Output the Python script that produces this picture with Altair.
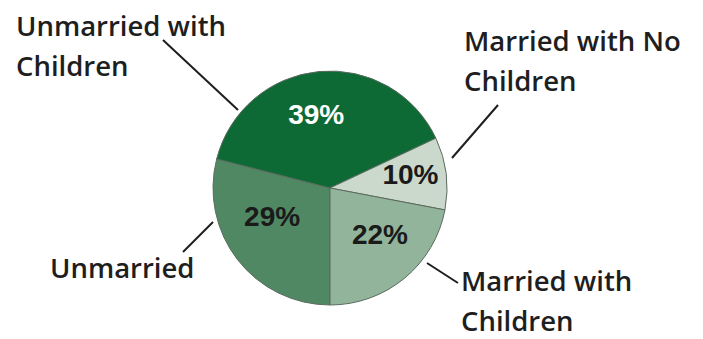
import math
import altair as alt
import pandas as pd

# Slice data (clockwise from 6 o'clock)
categories = ["Unmarried", "Unmarried with Children", "Married with No Children", "Married with Children"]
shares = [29, 39, 10, 22]
slice_colors = ["#4f8863", "#0e6a35", "#cbd8cc", "#92b49a"]
pct_text_colors = ["#1a1a1a", "#ffffff", "#1a1a1a", "#1a1a1a"]

# Outer annotation labels (text, anchor in chart pixels)
label_texts = ["Unmarried with\nChildren", "Married with No\nChildren", "Unmarried", "Married with\nChildren"]
label_x = [8, 456, 42, 453]
label_y = [28, 43, 270, 283]

# Leader lines (chart pixels)
lead_x1 = [155, 490, 175, 419]
lead_y1 = [32, 97, 244, 255]
lead_x2 = [230, 444, 205, 450]
lead_y2 = [102, 150, 214, 275]

CX, CY, R = 322, 180, 117
# small per-label nudges of the percentage labels (dx, dy)
PCT_NUDGE = {
    "Unmarried": (-1, -14),
    "Unmarried with Children": (-7, 0),
    "Married with No Children": (9, -3),
    "Married with Children": (4, -7),
}

pie_df = pd.DataFrame({
    "category": categories,
    "share": shares,
    "idx": list(range(len(categories))),
    "fill": slice_colors,
    "tcolor": pct_text_colors,
    "pct": [f"{s}%" for s in shares],
})

theta = alt.Theta("share:Q", stack=True, scale=alt.Scale(range=[math.pi, 3 * math.pi]))
order = alt.Order("idx:Q")

arcs = alt.Chart(pie_df).mark_arc(stroke="#5b6b5f", strokeWidth=1).encode(
    theta=theta,
    order=order,
    color=alt.Color("fill:N", scale=None),
    x=alt.value(CX),
    y=alt.value(CY),
    radius=alt.value(R),
)

pct_layers = []
for cat in categories:
    dx, dy = PCT_NUDGE[cat]
    pct_layers.append(
        alt.Chart(pie_df).mark_text(
            font="Liberation Sans", fontSize=28, fontWeight="bold",
            align="center", baseline="middle", dx=dx, dy=dy
        ).encode(
            theta=theta,
            order=order,
            text="pct:N",
            color=alt.Color("tcolor:N", scale=None),
            opacity=alt.condition(alt.datum.category == cat, alt.value(1), alt.value(0)),
            x=alt.value(CX),
            y=alt.value(CY),
            radius=alt.value(72),
        )
    )

lab_df = pd.DataFrame({"t": label_texts, "x": label_x, "y": label_y})
labels = alt.Chart(lab_df).mark_text(
    font="Open Sans", fontSize=27.5, fontWeight=600, align="left", baseline="alphabetic",
    lineBreak="\n", lineHeight=40, color="#1e1e1e"
).encode(
    x=alt.X("x:Q", scale=None),
    y=alt.Y("y:Q", scale=None),
    text="t:N",
)

lead_df = pd.DataFrame({"x": lead_x1, "y": lead_y1, "x2": lead_x2, "y2": lead_y2})
leads = alt.Chart(lead_df).mark_rule(color="#1e1e1e", strokeWidth=2).encode(
    x=alt.X("x:Q", scale=None),
    y=alt.Y("y:Q", scale=None),
    x2="x2:Q",
    y2="y2:Q",
)

chart = alt.layer(leads, arcs, *pct_layers, labels).properties(
    width=687, height=331, padding=0,
    autosize=alt.AutoSizeParams(type="fit", contains="padding"),
).configure_view(stroke=None)

chart.save("out.html", embed_options={"renderer": "svg", "actions": False})
